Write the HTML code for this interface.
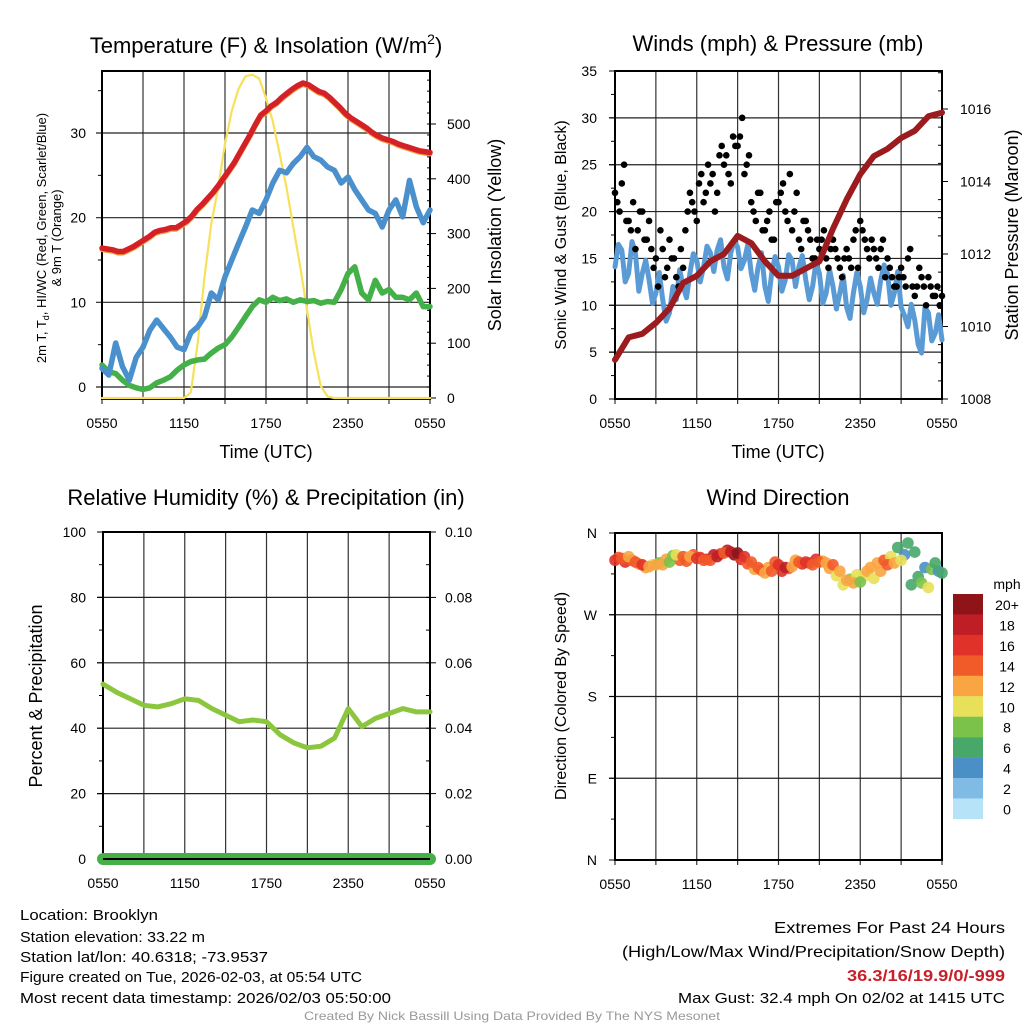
<!DOCTYPE html>
<html><head><meta charset="utf-8"><style>
body{margin:0;background:#fff;}
svg{display:block;font-family:"Liberation Sans",sans-serif;}
</style></head><body>
<svg id="c" width="1024" height="1024" viewBox="0 0 1024 1024"></svg>
<script>
const hours=[0,3,6,9,12,15,18,21,24];
const xTickLabels=["0550","1150","1750","2350","0550"];
const tRed=[16.4,16.3,16.2,16.0,16.0,16.3,16.6,17.0,17.4,17.8,18.3,18.5,18.6,18.8,18.8,19.2,19.6,20.2,21.0,21.6,22.3,23.0,23.8,24.7,25.6,26.5,27.6,28.7,29.8,31.0,32.1,32.6,33.2,33.6,34.2,34.7,35.2,35.6,35.9,35.7,35.3,34.9,34.7,34.2,33.6,33.0,32.3,31.8,31.4,31.0,30.6,30.1,29.7,29.4,29.2,29.0,28.7,28.5,28.3,28.1,27.9,27.8,27.7];
const tBlue=[2.2,1.4,5.2,2.4,0.8,3.5,4.7,6.7,7.9,6.9,5.9,4.7,4.4,6.4,7.1,8.3,11.1,10.3,13,15,17,18.9,20.9,20.5,22.1,24.1,25.6,25.3,26.4,27.2,28.3,27.2,26.8,26,25.6,24.1,24.8,23.3,22.1,20.9,20.5,18.9,20.9,22.1,20.1,24.4,21.3,19.4,20.9];
const tGreen=[2.6,1.8,1.6,0.8,0.2,-0.1,-0.3,-0.1,0.5,0.8,1.2,2.0,2.6,3.0,3.2,3.3,4.0,4.6,5.0,5.9,7.1,8.3,9.5,10.3,10.0,10.6,10.2,10.4,10.0,10.3,10.1,10.2,9.9,10.1,10.0,11.5,13.4,14.2,11.1,10.3,12.6,11.1,11.5,10.6,10.6,10.3,11.1,9.5,9.5];
const solar=[0,0,0,0,0,0,0,0,0,0,0,0,0,10,100,221,318,384,464,524,565,587,590,583,547,505,445,384,312,240,161,83,22,3,0,0,0,0,0,0,0,0,0,0,0,0,0,0,0];
const windBlue=[14.1,16.5,15.9,12.5,13.4,16.8,15.6,11.5,13.4,14.8,12.7,10.2,11.3,13.5,10.6,8.3,9.2,12.0,10.6,13.8,12,10.8,13.4,15.5,14.8,12.5,14.1,16.3,15.6,13.6,15.9,17.0,14.1,12.8,15.6,16.9,16.2,13.9,14.8,16.5,13.4,11.6,14.1,15.6,12,10.4,13.4,15.2,14.1,11.5,12.7,15.4,14.8,12.0,14.1,15.3,12.7,10.6,12,14.6,13.4,10.2,11.3,13.8,12,9.6,11.3,13.2,9.8,8.6,11.3,13.5,12,9.2,10.6,12.9,11.3,10.1,12.7,14.3,13.4,10.0,11.3,13.6,9.8,8.9,7.7,10.1,8.4,5.8,4.9,9.8,9.2,6.2,7,9.0,6.3];
const pressure=[1009.08,1009.7,1009.8,1010.1,1010.5,1011.2,1011.4,1011.8,1012.0,1012.5,1012.3,1011.8,1011.4,1011.4,1011.6,1011.8,1012.7,1013.5,1014.2,1014.7,1014.9,1015.2,1015.4,1015.8,1015.9];
const gustA=[22,20,25,19,21,18,20,17,16,15,18,13,17,15,12,14,20,21,19,24,22,23,20,26,25,24,28,27,30,25,21,19,22,18,20,17,21,23,19,18,22,16,19,17,15,16,18,14,17,15,13,16,14,18,19,17,15,16,14,17,15,13,12,14,12,16,11,14,12,13,11,12,11];
const gustB=[21,23,19,18,16,20,17,19,14,12,16,14,15,13,16,18,22,20,23,21,25,24,22,27,26,23,27,28,24,26,20,22,18,19,17,21,22,20,24,20,17,19,18,15,17,17,15,16,16,14,15,15,17,14,18,16,17,15,16,13,14,12,13,13,15,12,12,13,10,12,11,10];
const rh=[53.5,51,49,47,46.5,47.5,49,48.5,46,44,42,42.5,42,38,35.5,34,34.5,37,46,40.5,43,44.5,46,45,45];
const precip=[0,0,0,0,0,0,0,0,0,0,0,0,0,0,0,0,0,0,0,0,0,0,0,0,0];
const wdir=[330,332,334,328,325,323,325,325,328,336,334,334,332,330,330,334,338,339,338,334,328,322,316,318,325,322,323,328,328,325,328,327,325,318,308,305,306,318,310,318,325,327,330,349,339,305,300,327,316];
const wspd=[16,14,13,14,16,12,12,12,8,10,14,13,16,15,14,18,14,18,20,16,15,14,12,14,16,18,12,14,17,15,14,13,14,12,12,12,8,12,10,12,14,12,10,6,6,8,10,6,6];
const wdir2=[333,328,330,326,322,325,327,331,335,330,329,336,333,331,336,337,341,336,331,326,320,319,322,328,318,321,330,326,327,331,329,321,313,303,309,314,312,322,327,330,334,344,336,303,312,322,320,318];
const wspd2=[15,16,14,13,12,10,8,12,9,14,15,14,16,17,18,16,19,20,17,14,13,14,13,15,16,15,13,17,14,16,13,12,11,10,9,11,10,12,13,15,10,6,5,7,6,5,9,5];
const cbLabels=["20+","18","16","14","12","10","8","6","4","2","0"];
const cbColors=["#8f1418","#bf1e26","#e03229","#f15a29","#f9a541","#e8e058","#7bc24a","#47a86a","#4a8fc6","#7fbbe4","#b6e3f7"];

const NS="http://www.w3.org/2000/svg";
const svg=document.getElementById('c');
function mk(tag,attrs,parent){const e=document.createElementNS(NS,tag);for(const k in attrs)e.setAttribute(k,attrs[k]);(parent||svg).appendChild(e);return e;}
function txt(s,x,y,size,anchor,parent,extra){const e=mk('text',Object.assign({x:x,y:y,'font-size':size,'text-anchor':anchor||'middle',fill:'#000'},extra||{}),parent);e.textContent=s;return e;}
function lin(d0,d1,r0,r1){return v=>r0+(v-d0)/(d1-d0)*(r1-r0);}

function frame(g,L,R,T,B,hLines){
  hours.forEach(h=>{const x=L+(R-L)*h/24;mk('line',{x1:x,y1:T,x2:x,y2:B+5,stroke:'#333','stroke-width':1.2},g);});
  hLines.forEach(y=>mk('line',{x1:L-6,y1:y,x2:R,y2:y,stroke:'#222','stroke-width':1.2},g));
  mk('rect',{x:L,y:T,width:R-L,height:B-T,fill:'none',stroke:'#000','stroke-width':2},g);
  xTickLabels.forEach((s,i)=>{const t=txt(s,L+(R-L)*i/4,B+29,14,'middle',g);});
}
function poly(g,xs,ys,style,name){const p=mk('polyline',Object.assign({points:xs.map((x,i)=>x+','+ys[i]).join(' '),fill:'none','stroke-linejoin':'round','stroke-linecap':'round'},style),g);return p;}

// ===== Panel 1 =====
(function(){
const L=102,R=430,T=71,B=399;
const g=mk('g',{});  
const X=lin(0,24,L,R), Y=lin(0,30,387,133), YS=lin(0,500,398,124);
frame(g,L,R,T,B,[0,10,20,30].map(Y));
[0,10,20,30].forEach(v=>{const t=txt(String(v),86,Y(v)+5,14,'end',g);});
[5,15,25,35].forEach(v=>mk('line',{x1:L-4,y1:Y(v),x2:L,y2:Y(v),stroke:'#000'},g));
for(let v=0;v<=580;v+=20){const y=YS(v);mk('line',{x1:R-3,y1:y,x2:v%100==0?R+6:R,y2:y,stroke:'#000'},g);}
[0,100,200,300,400,500].forEach(v=>{const t=txt(String(v),447,YS(v)+5,14,'start',g);});
const xs=n=>Array.from({length:n},(_,i)=>X(i*24/(n-1)).toFixed(1));
poly(g,xs(49),solar.map(v=>YS(v).toFixed(1)),{stroke:'#f7e15a','stroke-width':2.2},'solar-insolation-line');
poly(g,xs(49),tGreen.map(v=>Y(v).toFixed(1)),{stroke:'#44b048','stroke-width':5.5},'dewpoint-line');
poly(g,xs(49),tBlue.map(v=>Y(v).toFixed(1)),{stroke:'#4a90cc','stroke-width':5.5},'windchill-line');
poly(g,xs(tRed.length),tRed.map(v=>(Y(v)+1.5).toFixed(1)),{stroke:'#f39a3c','stroke-width':5},'9m-temperature-line');
poly(g,xs(tRed.length),tRed.map(v=>Y(v).toFixed(1)),{stroke:'#d42027','stroke-width':5.5},'2m-temperature-line');
const t1=txt('',266,53,22,'middle',g);t1.innerHTML='Temperature (F) &amp; Insolation (W/m<tspan font-size="14" dy="-9">2</tspan><tspan dy="9">)</tspan>';
const a=txt('Time (UTC)',266,458,18,'middle',g);
const yt=mk('text',{transform:'translate(46,238) rotate(-90)','font-size':13,'text-anchor':'middle'},g);yt.innerHTML='2m T, T<tspan font-size="9" dy="3">d</tspan><tspan dy="-3">, HI/WC (Red, Green, Scarlet/Blue)</tspan>';
const yt2=mk('text',{transform:'translate(61,238) rotate(-90)','font-size':13,'text-anchor':'middle'},g);yt2.textContent='& 9m T (Orange)';
const rt=mk('text',{transform:'translate(501,235) rotate(-90)','font-size':18,'text-anchor':'middle'},g);rt.textContent='Solar Insolation (Yellow)';
})();

// ===== Panel 2 =====
(function(){
const L=615,R=942,T=71,B=399;
const g=mk('g',{});  
const X=lin(0,24,L,R), Y=lin(0,35,B,T), YP=lin(1008,1016,B,109);
frame(g,L,R,T,B,[5,10,15,20,25,30].map(Y));
[0,5,10,15,20,25,30,35].forEach(v=>{mk('line',{x1:L-6,y1:Y(v),x2:L,y2:Y(v),stroke:'#000'},g);const t=txt(String(v),597,Y(v)+5,14,'end',g);});
for(let v=2.5;v<35;v+=5)mk('line',{x1:L-4,y1:Y(v),x2:L,y2:Y(v),stroke:'#000'},g);
for(let v=1008;v<=1017;v+=0.5){const y=YP(v);if(y<T-1)break;const maj=(v%2==0);mk('line',{x1:R-(maj?0:4),y1:y,x2:R+(maj?6:0),y2:y,stroke:'#000'},g);}
[1008,1010,1012,1014,1016].forEach(v=>{const t=txt(String(v),960,YP(v)+5,14,'start',g);});
const xs=n=>Array.from({length:n},(_,i)=>X(i*24/(n-1)).toFixed(1));
poly(g,xs(windBlue.length),windBlue.map(v=>Y(v).toFixed(1)),{stroke:'#5b9bd5','stroke-width':5},'sonic-wind-line');
gustA.forEach((v,i)=>{const c=mk('circle',{cx:X(i/3),cy:Y(v),r:3.3,fill:'#000'},g);});
gustB.forEach((v,i)=>{const c=mk('circle',{cx:X(i/3+1/6),cy:Y(v),r:3.3,fill:'#000'},g);});
poly(g,xs(25),pressure.map(v=>YP(v).toFixed(1)),{stroke:'#9b1b1e','stroke-width':6},'station-pressure-line');
const t1=txt('Winds (mph) & Pressure (mb)',778,51,22,'middle',g);
const a=txt('Time (UTC)',778,458,18,'middle',g);
const yt=mk('text',{transform:'translate(566,235) rotate(-90)','font-size':16,'text-anchor':'middle'},g);yt.textContent='Sonic Wind & Gust (Blue, Black)';
const rt=mk('text',{transform:'translate(1018,235) rotate(-90)','font-size':18,'text-anchor':'middle'},g);rt.textContent='Station Pressure (Maroon)';
})();

// ===== Panel 3 =====
(function(){
const L=103,R=430,T=532,B=859;
const g=mk('g',{});  
const X=lin(0,24,L,R), Y=lin(0,100,B,T), YR=lin(0,0.1,B,T);
frame(g,L,R,T,B,[20,40,60,80].map(Y));
[0,20,40,60,80,100].forEach(v=>{mk('line',{x1:L-6,y1:Y(v),x2:L,y2:Y(v),stroke:'#000'},g);const t=txt(String(v),86,Y(v)+5,14,'end',g);});
for(let v=10;v<100;v+=20)mk('line',{x1:L-4,y1:Y(v),x2:L,y2:Y(v),stroke:'#000'},g);
for(let v=0;v<=0.1001;v+=0.01){const y=YR(v);mk('line',{x1:R-4,y1:y,x2:R,y2:y,stroke:'#000'},g);}
[0,0.02,0.04,0.06,0.08,0.1].forEach(v=>{mk('line',{x1:R,y1:YR(v),x2:R+6,y2:YR(v),stroke:'#000'},g);const t=txt(v.toFixed(2),445,YR(v)+5,14,'start',g);});
const xs=n=>Array.from({length:n},(_,i)=>X(i*24/(n-1)).toFixed(1));
poly(g,xs(25),rh.map(v=>Y(v).toFixed(1)),{stroke:'#8cc63f','stroke-width':5},'relative-humidity-line');
poly(g,xs(25),precip.map(v=>YR(v).toFixed(1)),{stroke:'#45b048','stroke-width':12},'precipitation-line');
mk('line',{x1:L,y1:B,x2:R,y2:B,stroke:'#000','stroke-width':2},g);
const t1=txt('Relative Humidity (%) & Precipitation (in)',266,505,22,'middle',g);
const yt=mk('text',{transform:'translate(42,696) rotate(-90)','font-size':18,'text-anchor':'middle'},g);yt.textContent='Percent & Precipitation';
})();

// ===== Panel 4 =====
(function(){
const L=615,R=942,T=533,B=860;
const g=mk('g',{});  
const X=lin(0,24,L,R), Y=lin(0,360,B,T);
frame(g,L,R,T,B,[90,180,270].map(Y));
[["N",0],["E",90],["S",180],["W",270],["N",360]].forEach(([s,v])=>{mk('line',{x1:L-6,y1:Y(v),x2:L,y2:Y(v),stroke:'#000'},g);const t=txt(s,597,Y(v)+5,14,'end',g);});
for(let v=45;v<360;v+=90)mk('line',{x1:L-4,y1:Y(v),x2:L,y2:Y(v),stroke:'#000'},g);
const col=s=>cbColors[10-Math.min(10,Math.floor(s/2))];
wdir2.forEach((d,i)=>{const c=mk('circle',{cx:X(i*0.5+0.25),cy:Y(d),r:5.8,fill:col(wspd2[i]),'fill-opacity':0.9},g);});
wdir.forEach((d,i)=>{const c=mk('circle',{cx:X(i*0.5),cy:Y(d),r:5.8,fill:col(wspd[i]),'fill-opacity':0.9},g);});
const t1=txt('Wind Direction',778,505,22,'middle',g);
const yt=mk('text',{transform:'translate(566,696) rotate(-90)','font-size':16,'text-anchor':'middle'},g);yt.textContent='Direction (Colored By Speed)';
const cb=mk('g',{});  
const u=txt('mph',1007,589,14,'middle',cb);
cbColors.forEach((c,i)=>{const y=594+i*20.45;const r=mk('rect',{x:953,y:y,width:30,height:20.6,fill:c},cb);const t=txt(cbLabels[i],1007,y+16,14,'middle',cb);});
})();

// ===== Footer =====
(function(){
const g=mk('g',{});  
const left=[["Location: Brooklyn",920,138],["Station elevation: 33.22 m",942,185],["Station lat/lon: 40.6318; -73.9537",962,248],["Figure created on Tue, 2026-02-03, at 05:54 UTC",982,342],["Most recent data timestamp: 2026/02/03 05:50:00",1003,371]];
left.forEach(([s,y,w])=>{const t=txt(s,20,y,15,'start',g,{textLength:w,lengthAdjust:'spacingAndGlyphs'});});
const right=[["Extremes For Past 24 Hours",933,231,16,'#000','normal'],["(High/Low/Max Wind/Precipitation/Snow Depth)",957,383,16,'#000','normal'],["36.3/16/19.9/0/-999",981,158,16,'#c8202a','bold'],["Max Gust: 32.4 mph On 02/02 at 1415 UTC",1003,327,15,'#000','normal']];
right.forEach(([s,y,w,fs,c,fw])=>{const t=txt(s,1005,y,fs,'end',g,{textLength:w,lengthAdjust:'spacingAndGlyphs',fill:c,'font-weight':fw});});
const cr=txt('Created By Nick Bassill Using Data Provided By The NYS Mesonet',512,1020,12,'middle',g,{fill:'#999',textLength:416,lengthAdjust:'spacingAndGlyphs'});
})();
</script>
</body></html>
